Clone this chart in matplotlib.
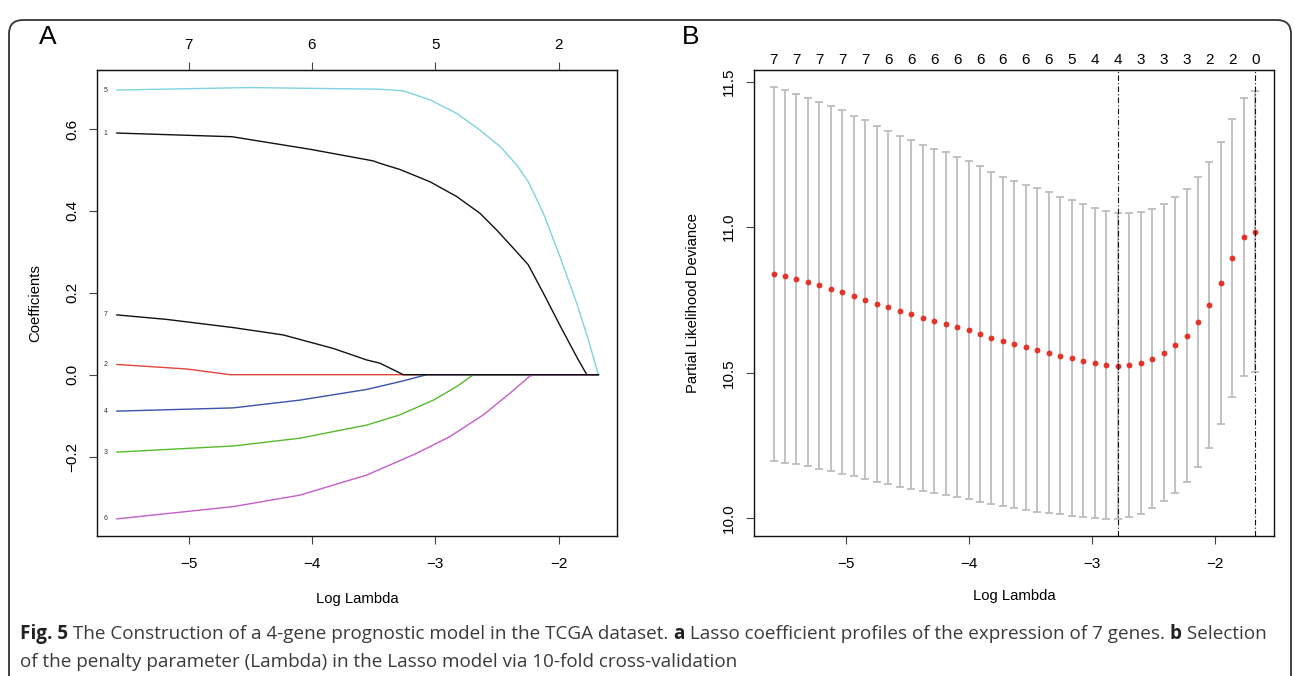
import numpy as np
import matplotlib.pyplot as plt
from matplotlib.patches import FancyBboxPatch
from matplotlib.transforms import IdentityTransform

plt.rcParams['font.family'] = ['Liberation Sans', 'DejaVu Sans']

# ---- panel A: lasso coefficient paths (log lambda, coefficient)
gene_ids = ['1', '2', '3', '4', '5', '6', '7']
gene_colors = ['#111111', '#e2463a', '#55bb2c', '#3a52ad', '#7ed3e2', '#c45ec8', '#111111']
path_x = {
    '1': [-5.582, -4.647, -4.008, -3.503, -3.448, -3.286, -3.042, -2.826, -2.637, -2.501, -2.367,
          -2.245, -2.123, -1.988, -1.852, -1.771, -1.677],
    '2': [-5.582, -5.017, -4.664, -1.677],
    '3': [-5.582, -4.637, -4.097, -3.556, -3.286, -3.015, -2.826, -2.691, -1.677],
    '4': [-5.582, -4.637, -4.097, -3.556, -3.286, -3.069, -1.677],
    '5': [-5.582, -4.512, -3.448, -3.259, -3.042, -2.826, -2.637, -2.474, -2.339, -2.245, -2.123,
          -1.988, -1.852, -1.758, -1.677],
    '6': [-5.582, -4.637, -4.097, -3.556, -3.151, -2.880, -2.610, -2.393, -2.231, -2.177, -1.677],
    '7': [-5.582, -5.178, -4.637, -4.232, -3.826, -3.556, -3.448, -3.259, -1.677],
}
path_y = {
    '1': [0.590, 0.581, 0.550, 0.522, 0.516, 0.501, 0.471, 0.435, 0.394, 0.353, 0.309,
          0.268, 0.199, 0.120, 0.043, 0.0, 0.0],
    '2': [0.025, 0.014, 0.0, 0.0],
    '3': [-0.189, -0.174, -0.155, -0.123, -0.098, -0.062, -0.029, 0.0, 0.0],
    '4': [-0.089, -0.081, -0.062, -0.036, -0.017, 0.0, 0.0],
    '5': [0.695, 0.701, 0.697, 0.693, 0.671, 0.638, 0.597, 0.557, 0.512, 0.471, 0.394,
          0.288, 0.174, 0.085, 0.0],
    '6': [-0.352, -0.322, -0.294, -0.245, -0.192, -0.151, -0.098, -0.045, -0.003, 0.0, 0.0],
    '7': [0.146, 0.135, 0.115, 0.097, 0.064, 0.036, 0.028, 0.0, 0.0],
}
a_top_ticks = [-5, -4, -3, -2]
a_top_labels = ['7', '6', '5', '2']

# ---- panel B: cross-validation curve
log_lambda = [-5.584, -5.491, -5.398, -5.305, -5.212, -5.119, -5.026, -4.933, -4.840, -4.747,
              -4.654, -4.560, -4.467, -4.374, -4.281, -4.188, -4.095, -4.002, -3.909, -3.816,
              -3.723, -3.630, -3.537, -3.444, -3.351, -3.258, -3.165, -3.072, -2.979, -2.886,
              -2.793, -2.699, -2.606, -2.513, -2.420, -2.327, -2.234, -2.141, -2.048, -1.955,
              -1.862, -1.769, -1.676]
cvm = [10.840, 10.831, 10.822, 10.812, 10.800, 10.789, 10.777, 10.764, 10.751, 10.737,
       10.725, 10.711, 10.700, 10.688, 10.679, 10.669, 10.657, 10.646, 10.633, 10.619,
       10.608, 10.597, 10.587, 10.578, 10.569, 10.559, 10.551, 10.541, 10.533, 10.526,
       10.524, 10.526, 10.534, 10.548, 10.569, 10.594, 10.627, 10.674, 10.734, 10.809,
       10.895, 10.965, 10.985]
cvsd = [0.642, 0.640, 0.636, 0.633, 0.631, 0.627, 0.624, 0.619, 0.617, 0.612,
        0.607, 0.603, 0.598, 0.595, 0.591, 0.588, 0.584, 0.580, 0.576, 0.571,
        0.566, 0.562, 0.558, 0.555, 0.551, 0.546, 0.542, 0.537, 0.533, 0.529,
        0.526, 0.522, 0.518, 0.514, 0.511, 0.508, 0.504, 0.498, 0.491, 0.484,
        0.478, 0.478, 0.484]
nzero = [7, 7, 7, 7, 7, 7, 7, 7, 7, 7, 6, 6, 6, 6, 6, 6, 6, 6, 6, 6, 6, 6,
         6, 6, 6, 6, 5, 5, 4, 4, 4, 4, 3, 3, 3, 3, 3, 3, 2, 2, 2, 2, 0]
lambda_min = -2.793
lambda_1se = -1.676

fig = plt.figure(figsize=(12.95, 6.76), dpi=100)
W, H = 1295, 676

# outer rounded frame (open at the bottom, cut off by the canvas)
frame = FancyBboxPatch((9, -60), 1282, 656 + 60, boxstyle="round,pad=0,rounding_size=14",
                       transform=IdentityTransform(), fill=False, ec='#333333', lw=1.3)
fig.add_artist(frame)

def r_style(ax):
    for s in ax.spines.values():
        s.set_linewidth(1.0)
        s.set_color('#111111')
    ax.tick_params(direction='out', length=6, width=0.8, color='#444444',
                   labelsize=11, pad=9)
    ax.tick_params(axis='y', pad=7)

# ---------------- panel A
axA = fig.add_axes([97 / W, 1 - 536 / H, 520 / W, 466 / H])
for g, c in zip(gene_ids, gene_colors):
    axA.plot(path_x[g], path_y[g], color=c, lw=1.0)
    axA.text(-5.673, path_y[g][0], g, fontsize=5, color='#333333', ha='center', va='center')
axA.set_xlim(-5.743, -1.526)
axA.set_ylim(-0.3938, 0.7439)
axA.set_xticks([-5, -4, -3, -2])
axA.set_xticklabels(['\u22125', '\u22124', '\u22123', '\u22122'])
axA.set_yticks([-0.2, 0.0, 0.2, 0.4, 0.6])
axA.set_yticklabels(['\u22120.2', '0.0', '0.2', '0.4', '0.6'], rotation=90, va='center')
r_style(axA)
axA.set_xlabel('Log Lambda', fontsize=10.7, labelpad=15)
axA.set_ylabel('Coefficients', fontsize=10.7, labelpad=16)
topA = axA.secondary_xaxis('top')
topA.set_xticks(a_top_ticks)
topA.set_xticklabels(a_top_labels)
topA.tick_params(direction='out', length=6, width=0.8, color='#444444', labelsize=11, pad=7)

# ---------------- panel B
axB = fig.add_axes([754.4 / W, 1 - 536 / H, 520 / W, 466 / H])
axB.errorbar(log_lambda, cvm, yerr=cvsd, fmt='none', ecolor='#bdbdbd',
             elinewidth=1.3, capsize=3, capthick=1.3, zorder=2)
axB.plot(log_lambda, cvm, 'o', color='#e3342a', ms=4.2, mec='none', zorder=3)
for v in (lambda_min, lambda_1se):
    axB.axvline(v, color='#111111', lw=0.8, dashes=(5, 2, 1, 2), zorder=4)
axB.set_xlim(-5.739, -1.521)
axB.set_ylim(9.939, 11.540)
axB.set_xticks([-5, -4, -3, -2])
axB.set_xticklabels(['\u22125', '\u22124', '\u22123', '\u22122'])
axB.set_yticks([10.0, 10.5, 11.0, 11.5])
axB.set_yticklabels(['10.0', '10.5', '11.0', '11.5'], rotation=90, va='center')
r_style(axB)
axB.set_xlabel('Log Lambda', fontsize=10.7, labelpad=13)
axB.set_ylabel('Partial Likelihood Deviance', fontsize=10.7, labelpad=16)
topB = axB.secondary_xaxis('top')
topB.set_xticks(log_lambda[::2])
topB.set_xticklabels([str(n) for n in nzero[::2]])
topB.tick_params(direction='out', length=0, labelsize=11, pad=2.5)

fig.text(48 / W, 1 - 37 / H, 'A', fontsize=19, ha='center', va='center')
fig.text(691 / W, 1 - 37 / H, 'B', fontsize=19, ha='center', va='center')

# ---------------- caption with bold pieces
cap_font = ['Open Sans', 'DejaVu Sans']
line1 = [('Fig. 5', 'bold'), (' The Construction of a 4-gene prognostic model in the TCGA dataset. ', 'normal'),
         ('a', 'bold'), (' Lasso coefficient profiles of the expression of 7 genes. ', 'normal'),
         ('b', 'bold'), (' Selection', 'normal')]
line2 = [('of the penalty parameter (Lambda) in the Lasso model via 10-fold cross-validation', 'normal')]
renderer = fig.canvas.get_renderer()
for parts, ypix in ((line1, 634), (line2, 662)):
    x = 20
    for txt, wt in parts:
        t = fig.text(x / W, 1 - ypix / H, txt, fontsize=13.55, family=cap_font, weight=wt,
                     color='#222222' if wt == 'bold' else '#3a3a3a', ha='left', va='center')
        x += t.get_window_extent(renderer).width

fig.savefig('out.png', dpi=100)
